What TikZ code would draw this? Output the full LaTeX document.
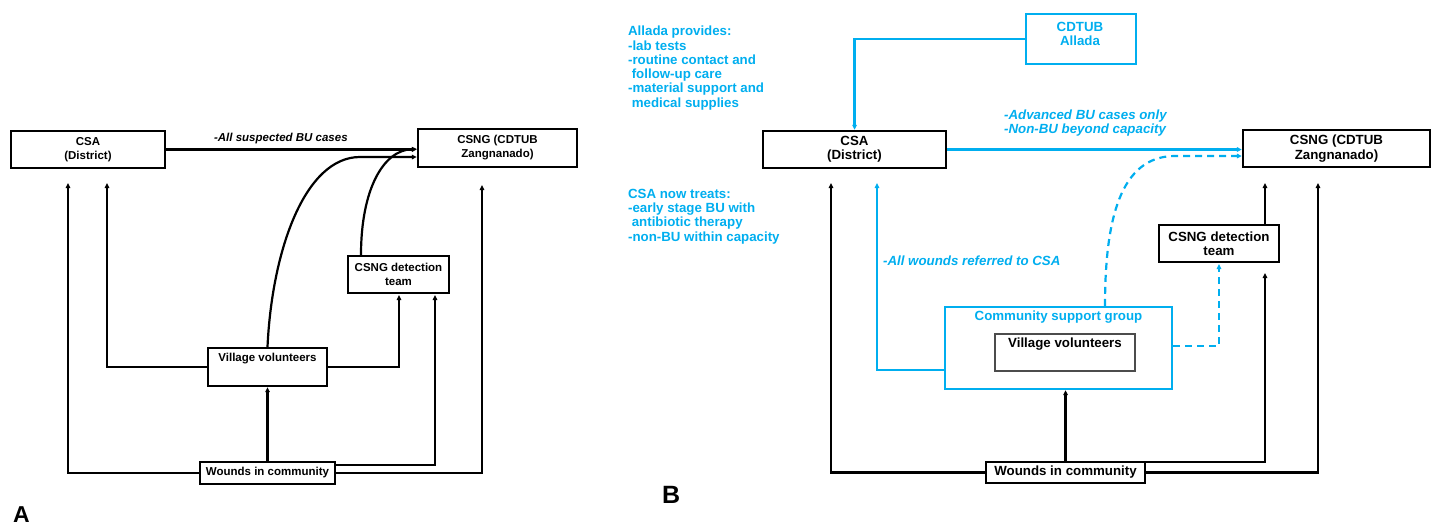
\documentclass[tikz,border=0pt]{standalone}
\usepackage{fontspec}
\setmainfont{Liberation Sans}
\usetikzlibrary{arrows.meta,calc}
\definecolor{bl}{RGB}{0,174,239}
\begin{document}
\begin{tikzpicture}[x=1pt,y=-1pt,line width=2.2pt,
  fA/.style={font=\fontsize{11.5}{14}\selectfont\bfseries},
  fAi/.style={font=\fontsize{11.5}{14}\selectfont\bfseries\itshape},
  fB/.style={font=\fontsize{13.3}{14.3}\selectfont\bfseries},
  fBi/.style={font=\fontsize{13.3}{14}\selectfont\bfseries\itshape},
  bx/.style={draw,line width=2.3pt,inner sep=0pt,align=center},
  txt/.style={inner sep=0pt,align=center},
  arr/.style={-{Triangle[length=5pt,width=4.5pt]}},
  dsh/.style={dash pattern=on 7pt off 5pt}]
\useasboundingbox (0,0) rectangle (1434,525);

% ---------------- Panel A ----------------
\node[bx,fA,minimum width=154pt,minimum height=37pt] (csaA) at (88,149.5) {CSA\\(District)};
\node[bx,fA,minimum width=159pt,minimum height=38pt] (csngA) at (497.5,148) {CSNG (CDTUB\\Zangnanado)};
\node[bx,fA,minimum width=101pt,minimum height=37pt] (detA) at (398.5,274.5) {CSNG detection\\team};
\node[bx,minimum width=119pt,minimum height=38pt] (vvA) at (267.5,367) {};
\node[txt,fA,anchor=base] (vvAt) at ($(vvA.north)+(0,15)$) {Village volunteers};
\node[bx,fA,minimum width=135pt,minimum height=22pt] (wA) at (267.5,473) {Wounds in community};

\coordinate (a1) at (68,183);
\coordinate (a2) at (107,183);
\coordinate (a3) at (399,295);
\coordinate (a4) at (435,295);
\coordinate (a5) at (482,185);
\coordinate (c1) at (360,157);

\draw[arr] (csaA.east) -- (csaA.east -| csngA.west);
\node[txt,fAi,anchor=base west] (lblA) at (213,141.7) {-All suspected BU cases};
\draw[arr] (vvA.north) .. controls (272,250) and (305,157) .. (c1) -- (c1 -| csngA.west);
\draw[arr] ($(detA.north)+(-37.5,0)$) .. controls (361,190) and (383,150) .. ($(csngA.west)+(0,1)$);
\draw[arr] (wA.west) -| (a1);
\draw[arr] (vvA.west) -| (a2);
\draw[arr] (wA.north) -- (vvA.south);
\draw[arr] (vvA.east) -| (a3);
\draw[arr] ($(wA.north east)+(0,4)$) -| (a4);
\draw[arr] (wA.east) -| (a5);

\node[txt,font=\fontsize{23}{23}\selectfont\bfseries,anchor=base west] (labA) at (12,522.5) {A};

% ---------------- Panel B ----------------
\node[txt,fB,text=bl,anchor=north west,align=left] (allada) at (627,25)
  {Allada provides:\\-lab tests\\-routine contact and\\\hspace*{3.7pt}follow-up care\\-material support and\\\hspace*{3.7pt}medical supplies};
\node[txt,fB,text=bl,anchor=north west,align=left] (treats) at (627,188)
  {CSA now treats:\\-early stage BU with\\\hspace*{3.7pt}antibiotic therapy\\-non-BU within capacity};

\node[bx,draw=bl,minimum width=110pt,minimum height=50pt] (cdtub) at (1081,39) {};
\node[txt,fB,text=bl,anchor=north] (cdtubt) at (1080,20.7) {CDTUB\\Allada};
\node[bx,fB,minimum width=183pt,minimum height=37pt] (csaB) at (854.5,149.5) {CSA\\(District)};
\node[bx,fB,minimum width=187pt,minimum height=37pt] (csngB) at (1336.5,148.5) {CSNG (CDTUB\\Zangnanado)};
\node[bx,fB,minimum width=120pt,minimum height=37pt] (detB) at (1219,243.5) {CSNG detection\\team};
\node[bx,draw=bl,minimum width=227pt,minimum height=82pt] (csg) at (1058.5,348) {};
\node[txt,fB,text=bl,anchor=base] (csgt) at ($(csg.north)+(0,14.7)$) {Community support group};
\node[bx,draw=gray!60!black,line width=1.1pt,minimum width=140pt,minimum height=37pt] (vvB) at (1065,352.5) {};
\node[txt,fB,anchor=base] (vvBt) at ($(vvB.north)+(0,13.7)$) {Village volunteers};
\node[bx,fB,minimum width=159pt,minimum height=21pt] (wB) at (1065.5,472.5) {Wounds in community};

\coordinate (b1) at (831,183);
\coordinate (b2) at (877,183);
\coordinate (b3) at (1219,264);
\coordinate (b4) at (1265,273);
\coordinate (b5) at (1318,183);
\coordinate (b6) at (1265,183);
\coordinate (c2) at (1175,156);

\draw[arr,bl] (cdtub.west) -| (csaB.north);
\draw[arr,bl] (csaB.east) -- (csaB.east -| csngB.west);
\node[txt,fBi,text=bl,anchor=north west,align=left] (lblB1) at (1003,109) {-Advanced BU cases only\\-Non-BU beyond capacity};
\draw[arr,bl,dsh] ($(csg.north)+(46.5,0)$) .. controls (1105,220) and (1120,156) .. (c2) -- (c2 -| csngB.west);
\draw[arr,bl] ($(csg.south west)+(0,-20)$) -| (b2);
\node[txt,fBi,text=bl,anchor=base west] (lblB2) at (882,265) {-All wounds referred to CSA};
\draw[arr,bl,dsh] ($(csg.north east)+(0,40)$) -| (b3);
\draw[arr] (wB.north) -- (wB.north |- csg.south);
\draw[arr] (wB.west) -| (b1);
\draw[arr] ($(wB.north east)+(0,1.5)$) -| (b4);
\draw[arr] (wB.east) -| (b5);
\draw[arr] ($(detB.north)+(46,0)$) -- (b6);

\node[txt,font=\fontsize{25}{25}\selectfont\bfseries,anchor=base west] (labB) at (661,503) {B};
\end{tikzpicture}
\end{document}
